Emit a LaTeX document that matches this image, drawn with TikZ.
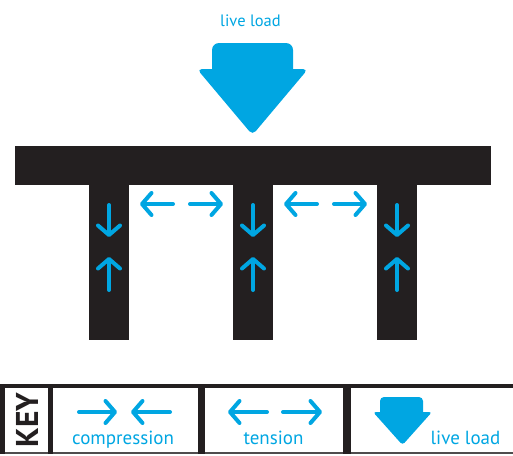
\documentclass[tikz,border=0pt]{standalone}
\usepackage{fontspec}
\setmainfont{PT Sans}
\usetikzlibrary{arrows.meta}
\definecolor{ink}{RGB}{35,31,32}
\definecolor{sky}{RGB}{0,166,226}
\tikzset{
  member/.style={fill=ink, draw=none},
  force/.style={draw=sky, line width=4pt, line cap=round,
    -{Straight Barb[round, length=9.5pt, width=22pt]}},
  loadarrow/.style={fill=sky, draw=none},
  lbl/.style={text=sky, anchor=base, inner sep=0pt, font=\fontsize{19}{19}\selectfont},
  keyframe/.style={fill=ink, draw=none}
}
\begin{document}
\begin{tikzpicture}[x=1pt, y=-1pt]
\useasboundingbox (0,0) rectangle (513,455);
% top label and live load arrow
\node[lbl, font=\fontsize{16.5}{16.5}\selectfont] (toplabel) at (250.5,26) {live load};
\path[loadarrow] (212,69) [rounded corners=7pt] -- (212,43) -- (293,43) [sharp corners] -- (293,69) [rounded corners=5pt] -- (308,69) -- (252.5,135) -- (197,69) [sharp corners] -- cycle;
% beam and columns
\path[member] (15,146) rectangle (491,185);
\path[member] (89,184) rectangle (129,340);
\path[member] (233,184) rectangle (273,340);
\path[member] (377,184) rectangle (417,340);
% column forces
\foreach \cx/\n in {109/a,253/b,397/c}{
  \coordinate (d1\n) at (\cx,205);
  \coordinate (d2\n) at (\cx,237);
  \coordinate (u1\n) at (\cx,290);
  \coordinate (u2\n) at (\cx,257);
  \draw[force] (d1\n) -- (d2\n);
  \draw[force] (u1\n) -- (u2\n);
}
% tension arrows between columns
\foreach \dx/\n in {0/a,144/b}{
  \coordinate (l1\n) at (173+\dx,204);
  \coordinate (l2\n) at (140+\dx,204);
  \coordinate (r1\n) at (190+\dx,204);
  \coordinate (r2\n) at (223+\dx,204);
  \draw[force] (l1\n) -- (l2\n);
  \draw[force] (r1\n) -- (r2\n);
}
% key frame
\path[keyframe] (0,384) rectangle (513,388);
\path[fill=ink!80] (0,452) rectangle (513,453.5);
\path[keyframe] (0,384) rectangle (5,453.5);
\path[keyframe] (48,384) rectangle (53,453.5);
\path[keyframe] (198,384) rectangle (205,453.5);
\path[keyframe] (343,384) rectangle (351,453.5);
\node[rotate=90, text=ink, inner sep=0pt, font=\fontsize{31.5}{31.5}\selectfont\bfseries] (keyword) at (27,420) {KEY};
% compression key
\coordinate (c1) at (79,412);
\coordinate (c2) at (117,412);
\coordinate (c3) at (170,412);
\coordinate (c4) at (131,412);
\draw[force] (c1) -- (c2);
\draw[force] (c3) -- (c4);
\node[lbl] (complabel) at (123,444) {compression};
% tension key
\coordinate (t1) at (267,412);
\coordinate (t2) at (228,412);
\coordinate (t3) at (283,412);
\coordinate (t4) at (322,412);
\draw[force] (t1) -- (t2);
\draw[force] (t3) -- (t4);
\node[lbl] (tenslabel) at (273.5,444) {tension};
% live load key
\path[loadarrow] (380,412) [rounded corners=4pt] -- (380,397) -- (423,397) [sharp corners] -- (423,412) [rounded corners=3pt] -- (432,412) -- (402.5,445) -- (373,412) [sharp corners] -- cycle;
\node[lbl] (loadlabel) at (465.5,444) {live load};
\end{tikzpicture}
\end{document}
